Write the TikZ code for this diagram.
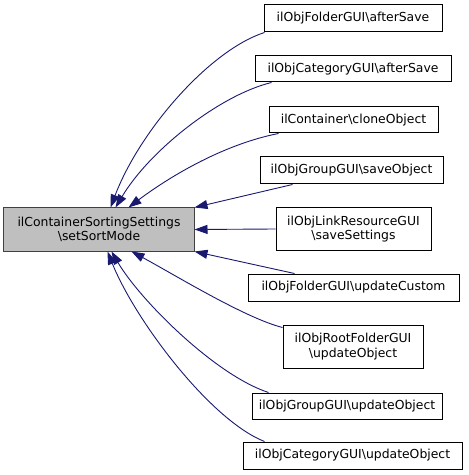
\documentclass[tikz,border=0pt]{standalone}
\usepackage{fontspec}
\setmainfont{DejaVu Sans}
\usetikzlibrary{arrows.meta}
\definecolor{edgecol}{HTML}{191970}
\definecolor{mainfill}{HTML}{BFBFBF}
\definecolor{mainline}{HTML}{404040}
\begin{document}
\begin{tikzpicture}[x=1bp,y=-1bp,
  box/.style={draw=black,fill=white,line width=1bp,inner sep=0pt,align=center,
    font=\fontsize{12.4bp}{14.5bp}\selectfont},
  mainbox/.style={box,draw=mainline,fill=mainfill},
  edge/.style={draw=edgecol,line width=0.9bp,-{Triangle[length=13bp,width=9bp]}}]
\useasboundingbox (0,0) rectangle (469,475);
\node[mainbox,minimum width=190bp,minimum height=43bp] (m) at (99,229.5) {ilContainerSortingSettings\\\textbackslash setSortMode};
\node[box,minimum width=178bp,minimum height=27bp] (b1) at (353,18.5) {ilObjFolderGUI\textbackslash afterSave};
\node[box,minimum width=196bp,minimum height=26bp] (b2) at (353,69) {ilObjCategoryGUI\textbackslash afterSave};
\node[box,minimum width=169bp,minimum height=26bp] (b3) at (353.5,120) {ilContainer\textbackslash cloneObject};
\node[box,minimum width=183bp,minimum height=27bp] (b4) at (351.5,170.5) {ilObjGroupGUI\textbackslash saveObject};
\node[box,minimum width=155bp,minimum height=42bp] (b5) at (353.5,229) {ilObjLinkResourceGUI\\\textbackslash saveSettings};
\node[box,minimum width=211bp,minimum height=27bp] (b6) at (353.5,287.5) {ilObjFolderGUI\textbackslash updateCustom};
\node[box,minimum width=140bp,minimum height=43bp] (b7) at (353,346.5) {ilObjRootFolderGUI\\\textbackslash updateObject};
\node[box,minimum width=190bp,minimum height=26bp] (b8) at (347,406) {ilObjGroupGUI\textbackslash updateObject};
\node[box,minimum width=219bp,minimum height=27bp] (b9) at (352.5,455.5) {ilObjCategoryGUI\textbackslash updateObject};
\draw[edge] ([xshift=1bp]b1.south west) .. controls (210,50) and (140,130) .. ([xshift=107bp]m.north west);
\draw[edge] ([xshift=17bp]b2.south west) .. controls (220,95) and (150,150) .. ([xshift=112bp]m.north west);
\draw[edge] ([xshift=10bp]b3.south west) .. controls (220,145) and (165,180) .. ([xshift=125bp]m.north west);
\draw[edge] ([xshift=33bp]b4.south west) -- (m.north east);
\draw[edge] (b5.west) -- (m.east);
\draw[edge] ([xshift=47bp]b6.north west) -- (m.south east);
\draw[edge] ([yshift=-3bp]b7.north west) .. controls (245,318) and (175,275) .. ([xshift=128bp]m.south west);
\draw[edge] ([xshift=17bp]b8.north west) .. controls (215,375) and (140,300) .. ([xshift=108bp]m.south west);
\draw[edge] ([xshift=22bp]b9.north west) .. controls (210,420) and (135,320) .. ([xshift=104bp]m.south west);
\end{tikzpicture}
\end{document}
